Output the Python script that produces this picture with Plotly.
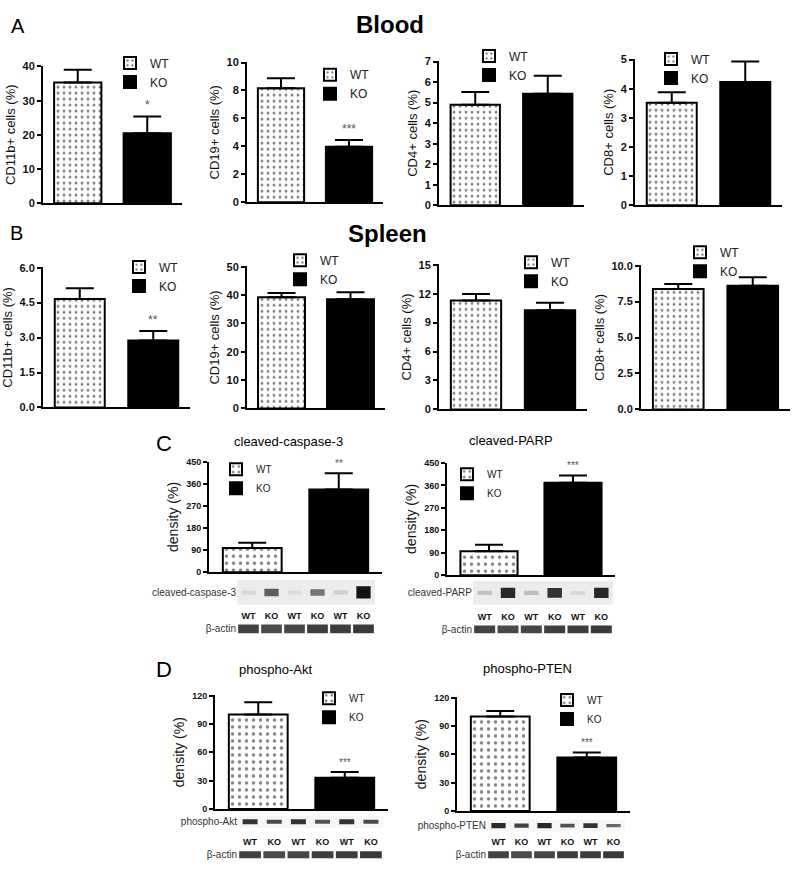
import plotly.graph_objects as go

W, H = 800, 881
FONT = "Liberation Sans, Arial, sans-serif"

# ---------------- data ----------------
groups = ["WT", "KO"]

blood_titles = ["CD11b+ cells (%)", "CD19+ cells (%)", "CD4+ cells (%)", "CD8+ cells (%)"]
blood_wt = [35.3, 8.15, 4.9, 3.52]
blood_wt_sem = [3.7, 0.72, 0.62, 0.36]
blood_ko = [20.5, 3.98, 5.43, 4.23]
blood_ko_sem = [4.9, 0.47, 0.88, 0.70]
blood_stars = ["*", "***", "", ""]
blood_ymax = [40, 10, 7, 5]
blood_dtick = [10, 2, 1, 1]

spleen_titles = ["CD11b+ cells (%)", "CD19+ cells (%)", "CD4+ cells (%)", "CD8+ cells (%)"]
spleen_wt = [4.65, 39.2, 11.3, 8.38]
spleen_wt_sem = [0.47, 1.5, 0.67, 0.35]
spleen_ko = [2.87, 38.5, 10.27, 8.6]
spleen_ko_sem = [0.41, 2.5, 0.78, 0.6]
spleen_stars = ["**", "", "", ""]
spleen_ymax = [6, 50, 15, 10]
spleen_dtick = [1.5, 10, 3, 2.5]

wb_titles = ["cleaved-caspase-3", "cleaved-PARP", "phospho-Akt", "phospho-PTEN"]
wb_wt = [99, 96, 100, 100]
wb_wt_sem = [21, 26, 13, 6]
wb_ko = [337, 370, 33, 56.5]
wb_ko_sem = [67, 30, 6, 5.5]
wb_stars = ["**", "***", "***", "***"]
wb_ymax = [450, 450, 120, 120]
wb_dtick = [90, 90, 30, 30]

lanes = ["WT", "KO", "WT", "KO", "WT", "KO"]
band_caspase = [0.08, 0.65, 0.06, 0.55, 0.12, 1.0]
band_parp = [0.18, 0.9, 0.2, 0.85, 0.08, 0.9]
band_akt = [0.85, 0.75, 0.85, 0.7, 0.85, 0.75]
band_pten = [0.9, 0.78, 0.9, 0.7, 0.85, 0.6]
band_actin = [0.78, 0.74, 0.76, 0.8, 0.8, 0.82]

# ---------------- layout helpers ----------------
fig = go.Figure()
layout = {}
annotations = []
shapes = []
counter = [0]


def new_axes():
    counter[0] += 1
    n = counter[0]
    s = "" if n == 1 else str(n)
    return f"xaxis{s}", f"yaxis{s}", f"x{s}", f"y{s}"


leg_counter = [0]


def new_legend():
    leg_counter[0] += 1
    n = leg_counter[0]
    return "legend" if n == 1 else f"legend{n}"


def bar_chart(geom, ytitle, wt, wt_sem, ko, ko_sem, star, ymax, dtick, fmt,
              leg, tick_size, title_size, leg_size, star_size, dot):
    axx, xend, ytop, ybot = geom
    xa, ya, xr, yr = new_axes()
    layout[xa] = dict(domain=[axx / W, xend / W], anchor=yr, type="category",
                      categoryorder="array", categoryarray=groups, range=[-0.5, 1.5],
                      showline=True, linecolor="black", linewidth=2, showticklabels=False,
                      ticks="", showgrid=False, zeroline=False, fixedrange=True)
    layout[ya] = dict(domain=[1 - ybot / H, 1 - ytop / H], anchor=xr,
                      range=[0, ymax * 1.002], dtick=dtick, tick0=0, tickformat=fmt,
                      showline=True, linecolor="black", linewidth=2, ticks="outside",
                      ticklen=4, tickwidth=2, tickcolor="black", showgrid=False,
                      zeroline=False, fixedrange=True,
                      tickfont=dict(family=FONT, size=tick_size, color="#111", weight="bold"),
                      title=dict(text=ytitle, font=dict(family=FONT, size=title_size, color="#111"),
                                 standoff=4))
    lg = new_legend()
    fig.add_trace(go.Bar(
        x=[groups[0]], y=[wt], name="WT", width=[0.68], xaxis=xr, yaxis=yr, legend=lg,
        marker=dict(color="white", line=dict(color="black", width=2),
                    pattern=dict(shape=".", fgcolor="black", bgcolor="white", size=dot, solidity=0.18)),
        error_y=dict(type="data", symmetric=False, array=[wt_sem], arrayminus=[0],
                     color="black", thickness=2, width=14)))
    fig.add_trace(go.Bar(
        x=[groups[1]], y=[ko], name="KO", width=[0.68], xaxis=xr, yaxis=yr, legend=lg,
        marker=dict(color="black", line=dict(color="black", width=2)),
        error_y=dict(type="data", symmetric=False, array=[ko_sem], arrayminus=[0],
                     color="black", thickness=2, width=14)))
    lx, ly = leg
    layout[lg] = dict(x=(lx - 38) / W, y=1 - (ly - 18) / H, xanchor="left", yanchor="top",
                      bgcolor="rgba(0,0,0,0)", itemwidth=30, tracegroupgap=0,
                      font=dict(family=FONT, size=leg_size, color="#222"))
    if star:
        annotations.append(dict(x=groups[1], y=ko + ko_sem, xref=xr, yref=yr, text=star,
                                showarrow=False, yanchor="bottom", yshift=2,
                                font=dict(family=FONT, size=star_size, color="#555")))


def band_colors(vals):
    out = []
    for v in vals:
        g = int(232 - 212 * v)
        out.append(f"rgb({g},{g},{g})")
    return out


def blot(x0, x1, strip, actin, label, intens, bg, lane_ticklen):
    # target protein strip
    xa, ya, xr, yr = new_axes()
    layout[xa] = dict(domain=[x0 / W, x1 / W], anchor=yr, range=[-0.5, 5.5],
                      tickvals=list(range(6)), ticktext=lanes, ticks="outside",
                      ticklen=lane_ticklen, tickcolor="rgba(0,0,0,0)", showline=False,
                      showgrid=False, zeroline=False, fixedrange=True,
                      tickfont=dict(family=FONT, size=9, color="#111", weight="bold"))
    layout[ya] = dict(domain=[1 - strip[1] / H, 1 - strip[0] / H], anchor=xr, range=[0, 1],
                      tickvals=[0.5], ticktext=[label], ticks="", showline=False,
                      showgrid=False, zeroline=False, fixedrange=True,
                      tickfont=dict(family=FONT, size=10, color="#333"))
    shapes.append(dict(type="rect", xref=f"{xr} domain", yref=f"{yr} domain", x0=0, x1=1,
                       y0=0, y1=1, fillcolor=bg, line_width=0, layer="below"))
    th = [0.16 + 0.34 * v * v for v in intens]
    fig.add_trace(go.Bar(x=list(range(6)), y=th, base=[0.5 - t / 2 for t in th], width=0.62,
                         marker=dict(color=band_colors(intens), line_width=0),
                         showlegend=False, hoverinfo="skip", xaxis=xr, yaxis=yr))
    # beta-actin strip
    xa, ya, xr, yr = new_axes()
    layout[xa] = dict(domain=[x0 / W, x1 / W], anchor=yr, range=[-0.5, 5.5],
                      showticklabels=False, ticks="", showline=False, showgrid=False,
                      zeroline=False, fixedrange=True)
    layout[ya] = dict(domain=[1 - actin[1] / H, 1 - actin[0] / H], anchor=xr, range=[0, 1],
                      tickvals=[0.5], ticktext=["β-actin"], ticks="", showline=False,
                      showgrid=False, zeroline=False, fixedrange=True,
                      tickfont=dict(family=FONT, size=10, color="#333"))
    fig.add_trace(go.Bar(x=list(range(6)), y=[0.8] * 6, base=[0.1] * 6, width=0.9,
                         marker=dict(color=band_colors(band_actin), line_width=0),
                         showlegend=False, hoverinfo="skip", xaxis=xr, yaxis=yr))


# ---------------- panel A: Blood ----------------
geom_A = [(43, 182, 61, 200), (247, 383, 57, 199), (439, 584, 56, 202), (635, 782, 54, 202)]
leg_A = [(148, 61), (348, 73), (507, 54), (689, 57)]
for i in range(4):
    bar_chart(geom_A[i], blood_titles[i], blood_wt[i], blood_wt_sem[i], blood_ko[i],
              blood_ko_sem[i], blood_stars[i], blood_ymax[i], blood_dtick[i], "d",
              leg_A[i], 11, 13, 12, 12, 6)

# ---------------- panel B: Spleen ----------------
geom_B = [(43, 190, 265, 407), (247, 385, 264, 408), (439, 587, 262, 409), (641, 790, 263, 409)]
leg_B = [(157, 268), (318, 261), (549, 263), (718, 253)]
fmt_B = [".1f", "d", "d", ".1f"]
for i in range(4):
    bar_chart(geom_B[i], spleen_titles[i], spleen_wt[i], spleen_wt_sem[i], spleen_ko[i],
              spleen_ko_sem[i], spleen_stars[i], spleen_ymax[i], spleen_dtick[i], fmt_B[i],
              leg_B[i], 11, 13, 12, 12, 6)

# ---------------- panels C and D: western blots ----------------
geom_CD = [(209, 382, 462, 574), (447, 615, 463, 577), (215, 388, 699, 814), (457, 630, 701, 816)]
leg_CD = [(254, 473), (485, 478), (347, 705), (585, 707)]
for i in range(4):
    bar_chart(geom_CD[i], "density (%)", wb_wt[i], wb_wt_sem[i], wb_ko[i], wb_ko_sem[i],
              wb_stars[i], wb_ymax[i], wb_dtick[i], "d", leg_CD[i], 9, 14, 10, 10, 7)

blot(237, 375, (582, 607), (626, 637), "cleaved-caspase-3", band_caspase, "#ececec", 2)
blot(473, 613, (583, 607), (627, 637), "cleaved-PARP", band_parp, "#ececec", 3)
blot(238, 383, (821, 833), (856, 865), "phospho-Akt", band_akt, "#f6f6f6", 6)
blot(487, 625, (825, 837), (856, 865), "phospho-PTEN", band_pten, "#f6f6f6", 2)

# ---------------- headings ----------------
def label(text, x, y, size, weight="normal", xanchor="left"):
    annotations.append(dict(text=text, x=x / W, y=1 - y / H, xref="paper", yref="paper",
                            xanchor=xanchor, yanchor="middle", showarrow=False,
                            font=dict(family=FONT, size=size, color="black", weight=weight)))


label("A", 9, 20, 20)
label("Blood", 390, 19, 24, "bold", "center")
label("B", 8, 230, 20)
label("Spleen", 387, 231, 24, "bold", "center")
label("C", 154, 444, 22)
label("D", 154, 673, 22)
label(wb_titles[0], 288, 442, 13, xanchor="center")
label(wb_titles[1], 511, 441, 13, xanchor="center")
label(wb_titles[2], 275, 673, 13, xanchor="center")
label(wb_titles[3], 527, 672, 13, xanchor="center")

layout.update(dict(width=W, height=H, margin=dict(l=0, r=0, t=0, b=0),
                   paper_bgcolor="white", plot_bgcolor="white", barmode="overlay",
                   annotations=annotations, shapes=shapes,
                   font=dict(family=FONT, color="black")))
fig.update_layout(**layout)
fig.write_html("out.html", config={"displayModeBar": False},
               post_script="document.body.style.margin='0';document.body.style.overflow='hidden';")
